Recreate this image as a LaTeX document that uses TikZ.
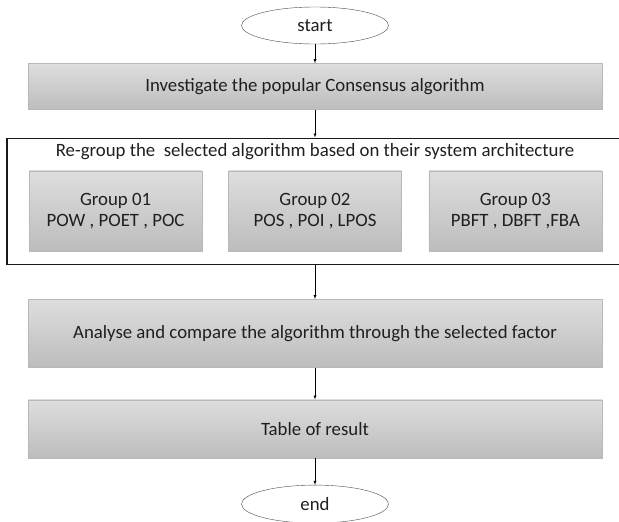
\documentclass[tikz,border=0pt]{standalone}
\usepackage{fontspec}
\setmainfont{Carlito}
\usetikzlibrary{positioning,shapes,arrows}

\begin{document}
\begin{tikzpicture}[>=latex,
	every node/.style={font=\fontsize{18.8}{21}\selectfont,text=black!88},
	term/.style={shape=ellipse,draw=black!70,fill=white,minimum width=147pt,minimum height=37pt,inner sep=0pt},
	stepbox/.style={shape=rectangle,draw=black!28,top color=black!13,bottom color=black!26,minimum width=574pt,inner sep=0pt},
	groupbox/.style={stepbox,minimum width=173pt,minimum height=80pt,align=center}]
		\useasboundingbox (0,0) rectangle (619pt,-522pt);
		\node(start) [term] at (315pt,-25.5pt) {start};
		\node(invest) [below=19pt of start,stepbox,minimum height=46pt] {Investigate the popular Consensus algorithm};
		\node(regroup) [below=28pt of invest,shape=rectangle,draw=black!90,line width=1.5pt,minimum width=616pt,minimum height=126pt] {};
		\node(title) [below=2pt of regroup.north] {Re-group the\ \ selected algorithm based on their system architecture};
		\node(g2) [below=33pt of regroup.north,groupbox] {Group 02\\POS , POI , LPOS};
		\node(g1) [left=26pt of g2,groupbox] {Group 01\\POW , POET , POC};
		\node(g3) [right=27pt of g2,groupbox] {Group 03\\PBFT , DBFT ,FBA};
		\node(analyse) [below=34pt of regroup,stepbox,minimum height=68pt] {Analyse and compare the algorithm through the selected factor};
		\node(table) [below=32pt of analyse,stepbox,minimum height=58pt] {Table of result};
		\node(end) [below=27pt of table,term,minimum height=38pt] {end};
		\draw[->] (start) -- (invest);
		\draw[->] (invest) -- (regroup);
		\draw[->] (regroup) -- (analyse);
		\draw[->] (analyse) -- (table);
		\draw[->] (table) -- (end);
\end{tikzpicture}
\end{document}
